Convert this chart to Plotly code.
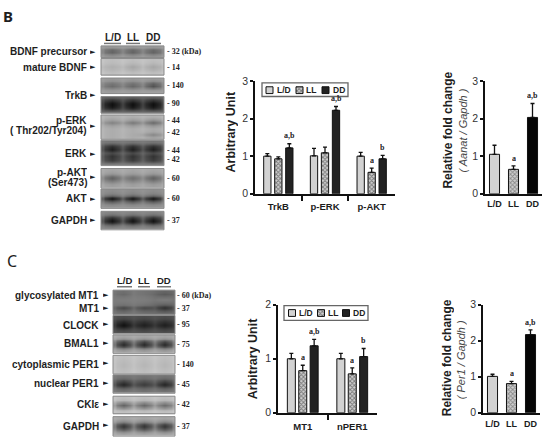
import plotly.graph_objects as go

# ---------- data ----------
conditions = ["L/D", "LL", "DD"]

b_groups = ["TrkB", "p-ERK", "p-AKT"]
b_ld = [1.00, 1.01, 1.00]
b_ll = [0.93, 1.09, 0.57]
b_dd = [1.22, 2.22, 0.93]
b_ld_err = [0.07, 0.20, 0.10]
b_ll_err = [0.05, 0.15, 0.11]
b_dd_err = [0.11, 0.10, 0.09]
b_ld_sig = ["", "", ""]
b_ll_sig = ["", "", "a"]
b_dd_sig = ["a,b", "a,b", "b"]

aanat = [1.05, 0.65, 2.03]
aanat_err = [0.24, 0.09, 0.37]
aanat_sig = ["", "a", "a,b"]

c_groups = ["MT1", "nPER1"]
c_ld = [1.00, 1.00]
c_ll = [0.78, 0.72]
c_dd = [1.24, 1.04]
c_ld_err = [0.10, 0.10]
c_ll_err = [0.10, 0.11]
c_dd_err = [0.12, 0.15]
c_ld_sig = ["", ""]
c_ll_sig = ["a", "a"]
c_dd_sig = ["a,b", "b"]

per1 = [1.01, 0.81, 2.17]
per1_err = [0.06, 0.06, 0.13]
per1_sig = ["", "a", "a,b"]

b_labels = ["BDNF precursor", "mature BDNF", "TrkB", "p-ERK", "( Thr202/Tyr204)", "ERK", "p-AKT", "(Ser473)", "AKT", "GAPDH"]
b_label_y = [47, 63, 92, 118, 128, 152, 171, 181, 198, 220]
b_arrow_y = [47, 63, 91, 123, 152, 176, 198, 220]
b_kda = ["- 32 (kDa)", "- 14", "- 140", "- 90", "- 44", "- 42", "- 44", "- 42", "- 60", "- 60", "- 37"]
b_kda_y = [47, 63, 82, 100, 118, 130, 148, 158, 177, 198, 220]

c_labels = ["glycosylated MT1", "MT1", "CLOCK", "BMAL1", "cytoplasmic PER1", "nuclear PER1", "CKIε", "GAPDH"]
c_label_y = [298, 311, 328, 347, 368, 388, 410, 432]
c_kda = ["- 60 (kDa)", "- 37", "- 95", "- 75", "- 140", "- 45", "- 42", "- 37"]
c_kda_y = [298, 311, 327, 348, 368, 389, 410, 432]

# blots: (top, bottom, grey levels down the strip, per-lane band strength)
b_blots = [
    (41, 53, [150, 125, 105, 100, 115, 135, 150], [1.0, 1.0, 1.0]),
    (54, 71, [190, 186, 176, 166, 174, 186, 192], [0.6, 1.0, 1.0]),
    (74, 90, [150, 140, 108, 98, 125, 150, 160], [0.8, 0.9, 1.3]),
    (93, 110, [95, 50, 22, 14, 22, 60, 105], [1.0, 1.0, 1.0]),
    (112, 137, [[175, 160, 130, 160, 172, 172, 172, 172], [175, 158, 120, 155, 172, 172, 170, 172], [175, 150, 105, 150, 170, 165, 135, 165]], [1.0, 1.0, 1.0]),
    (138, 164, [115, 50, 30, 75, 50, 60, 125], [1.0, 1.0, 1.0]),
    (167, 187, [165, 155, 120, 95, 125, 155, 160], [1.0, 0.8, 1.0]),
    (188, 208, [140, 130, 90, 20, 90, 135, 150], [1.0, 1.0, 1.0]),
    (211, 230, [130, 100, 45, 15, 60, 115, 140], [1.0, 1.0, 1.0]),
]
c_blots = [
    (292, 317, [[110, 105, 118, 125, 120, 110, 70, 100, 115], [115, 115, 122, 125, 120, 110, 72, 100, 115], [100, 90, 110, 125, 110, 85, 45, 85, 110]], [1.0, 1.0, 1.0]),
    (318, 337, [75, 60, 35, 15, 40, 65, 85], [1.0, 0.75, 0.75]),
    (338, 357, [165, 140, 70, 40, 80, 145, 165], [1.0, 1.0, 1.0]),
    (359, 378, [190, 188, 185, 182, 185, 188, 190], [1.0, 1.0, 1.0]),
    (379, 398, [115, 100, 65, 35, 70, 105, 120], [1.0, 0.7, 1.0]),
    (401, 419, [190, 180, 130, 95, 135, 185, 195], [1.0, 0.95, 0.9]),
    (422, 442, [165, 140, 80, 50, 85, 145, 170], [1.0, 1.0, 1.0]),
]
lane_edges = [0.0, 0.06, 0.28, 0.39, 0.61, 0.72, 0.94, 1.0]

# ---------- styles ----------
SANS = "Liberation Sans"
SERIF = "Liberation Serif"
INK = "#1c1c1c"
LIGHT = "#d2d2d2"
DARK = "#222222"
HATCH = dict(shape="x", size=3, solidity=0.5, fgcolor="#222222", bgcolor="#cfcfcf")
NOHATCH = dict(shape="")
W, H = 550, 446

fig = go.Figure()
annotations, shapes = [], []


def text(x, y, s, size=10, bold=True, anchor="left", font=SANS, color=INK, angle=0, italic=False, xref="x", yref="y", yanchor="middle"):
    if bold:
        s = f"<b>{s}</b>"
    if italic:
        s = f"<i>{s}</i>"
    annotations.append(dict(x=x, y=y, xref=xref, yref=yref, text=s, showarrow=False, xanchor=anchor, yanchor=yanchor,
                            textangle=angle, font=dict(family=font, size=size, color=color), borderpad=0, borderwidth=0, opacity=0.99))


def blot(x0, x1, top, bottom, rows, lanes):
    nested = isinstance(rows[0], list)
    profiles = rows if nested else [rows] * 3
    n = len(profiles[0])
    ys = [top + (bottom - top) * i / n for i in range(n + 1)]
    xs = [x0 + (x1 - x0) * f for f in lane_edges]
    z = []
    for r in range(n):
        row = []
        for col in range(7):
            if col % 2 == 1:
                lane = col // 2
                bg = profiles[lane][0]
                row.append(bg + (profiles[lane][r] - bg) * lanes[lane])
            else:
                lane = min(col // 2, 2)
                bg = profiles[lane][0]
                row.append(bg + (profiles[lane][r] - bg) * 0.45 + 8)
        z.append(row)
    fig.add_trace(go.Heatmap(x=xs, y=ys, z=z, zmin=0, zmax=255, zsmooth="best", showscale=False, hoverinfo="skip",
                             colorscale=[[0, "#000000"], [1, "#ffffff"]], xaxis="x", yaxis="y"))
    shapes.append(dict(type="rect", xref="x", yref="y", x0=x0, x1=x1, y0=top, y1=bottom,
                       line=dict(color="#8a8a8a", width=1), fillcolor="rgba(0,0,0,0)"))


for top, bottom, rows, lanes in b_blots:
    blot(101, 164, top, bottom, rows, lanes)
for top, bottom, rows, lanes in c_blots:
    blot(113, 175, top, bottom, rows, lanes)

# panel letters
text(3, 10, "B", size=15, font="Noto Sans")
text(7, 262, "C", size=16, bold=False, font="Noto Sans")

# blot headers
for cond, x in zip(conditions, [113, 133, 153]):
    text(x, 32, cond, size=10, anchor="center")
for cond, x in zip(conditions, [124.5, 144, 164]):
    text(x, 282, cond, size=9.5, anchor="center")
for a, b in [(104, 121), (126, 140), (145, 161)]:
    shapes.append(dict(type="line", xref="x", yref="y", x0=a, x1=b, y0=38.5, y1=38.5, line=dict(color="#777777", width=1.5)))
for a, b in [(117, 132), (138, 150), (157, 171)]:
    shapes.append(dict(type="line", xref="x", yref="y", x0=a, x1=b, y0=288.5, y1=288.5, line=dict(color="#777777", width=1.5)))

# blot labels
for s, y in zip(b_labels, b_label_y):
    text(87, y, s, size=10, anchor="right")
for y in b_arrow_y:
    text(93, y, "►", size=7, anchor="center", bold=False, font="DejaVu Sans")
for s, y in zip(b_kda, b_kda_y):
    text(167, y, s, size=8, font=SERIF, color="#222222")
for s, y in zip(c_labels, c_label_y):
    text(99, y, s, size=10, anchor="right")
    text(106, y - 1, "►", size=7, anchor="center", bold=False, font="DejaVu Sans")
for s, y in zip(c_kda, c_kda_y):
    text(177, y, s, size=8, font=SERIF, color="#222222")


def dom_x(a, b):
    return [a / W, b / W]


def dom_y(top, bottom):
    return [1 - bottom / H, 1 - top / H]


AXIS = dict(showline=True, linecolor="#111111", linewidth=1.5, showgrid=False, zeroline=False)
GHOST = "rgba(0,0,0,0)"


def grouped(idx, left, right, top, bottom, ymax, groups, series, errs, sigs, bar_w, step, gap):
    xa, ya = f"x{idx}", f"y{idx}"
    span = right - left
    n = len(groups)
    styles = [(LIGHT, NOHATCH), ("#cfcfcf", HATCH), (DARK, NOHATCH)]
    for k, (vals, err, sig, (col, pat)) in enumerate(zip(series, errs, sigs, styles)):
        xs = [i + 0.5 + (k - 1) * step / (span / n) for i in range(n)]
        fig.add_trace(go.Bar(x=xs, y=vals, width=bar_w / (span / n), xaxis=xa, yaxis=ya,
                             marker=dict(color=col, pattern=pat, line=dict(color="#111111", width=1)),
                             error_y=dict(type="data", array=err, arrayminus=[0] * n, symmetric=False,
                                          color="#111111", thickness=1.3, width=2)))
        for x, v, e, s in zip(xs, vals, err, sig):
            if s:
                text(x, v + e + 0.03 * ymax, s, size=8, font=SERIF, anchor="center", xref=xa, yref=ya, yanchor="bottom", color="#222222")
    fig.layout[f"xaxis{idx}"] = dict(AXIS, domain=dom_x(left, right), range=[0, n], anchor=ya,
                                     tickvals=[i + 0.5 for i in range(n)], ticktext=[f"<b>{g}</b>" for g in groups],
                                     ticks="outside", ticklen=gap, tickcolor=GHOST, tickfont=dict(family=SANS, size=9.5, color=INK),
                                     minor=dict(tickvals=list(range(1, n)), ticks="outside", ticklen=5, tickwidth=1.5, tickcolor="#111111"))
    fig.layout[f"yaxis{idx}"] = dict(AXIS, domain=dom_y(top, bottom), range=[0, ymax], anchor=xa,
                                     tickvals=list(range(ymax + 1)), ticks="outside", ticklen=3, tickwidth=1.5, tickcolor="#111111",
                                     tickfont=dict(family=SANS, size=10.5, color="#333333"))


def single(idx, left, right, top, bottom, vals, err, sig, bar_frac, gap):
    xa, ya = f"x{idx}", f"y{idx}"
    fig.add_trace(go.Bar(x=conditions, y=vals, xaxis=xa, yaxis=ya, width=bar_frac,
                         marker=dict(color=[LIGHT, "#cfcfcf", "#050505"], pattern=dict(shape=["", "x", ""], size=3, solidity=0.5, fgcolor="#222222", bgcolor="#cfcfcf"),
                                     line=dict(color="#111111", width=1)),
                         error_y=dict(type="data", array=err, arrayminus=[0, 0, 0], symmetric=False, color="#111111", thickness=1.3, width=2)))
    for c, v, e, s in zip(conditions, vals, err, sig):
        if s:
            text(c, v + e + 0.09, s, size=8, font=SERIF, anchor="center", xref=xa, yref=ya, yanchor="bottom", color="#222222")
    fig.layout[f"xaxis{idx}"] = dict(AXIS, domain=dom_x(left, right), range=[-0.5, 2.5], anchor=ya, type="category",
                                     ticks="outside", ticklen=gap, tickcolor=GHOST, ticktext=[f"<b>{c}</b>" for c in conditions], tickvals=conditions,
                                     tickfont=dict(family=SANS, size=9, color=INK))
    fig.layout[f"yaxis{idx}"] = dict(AXIS, domain=dom_y(top, bottom), range=[0, 3], anchor=xa,
                                     tickvals=[0, 1, 2, 3], ticks="outside", ticklen=3, tickwidth=1.5, tickcolor="#111111",
                                     tickfont=dict(family=SANS, size=10.5, color="#333333"))


grouped(2, 255, 395, 77, 193, 3, b_groups, [b_ld, b_ll, b_dd], [b_ld_err, b_ll_err, b_dd_err], [b_ld_sig, b_ll_sig, b_dd_sig], 7.3, 11, 3)
single(3, 485, 542, 77, 193, aanat, aanat_err, aanat_sig, 0.53, 1)
grouped(4, 278, 377, 307, 418, 2, c_groups, [c_ld, c_ll, c_dd], [c_ld_err, c_ll_err, c_dd_err], [c_ld_sig, c_ll_sig, c_dd_sig], 8, 11.4, 4)
single(5, 483, 540, 307, 418, per1, per1_err, per1_sig, 0.53, 2)

# axis titles
text(230, 130, "Arbitrary Unit", size=12.5, anchor="center", angle=-90)
text(448, 128, "Relative fold change", size=12, anchor="center", angle=-90)
text(463, 128, "( Aanat / Gapdh )", size=11, anchor="center", angle=-90, bold=False, italic=True, color="#444444")
text(253, 363, "Arbitrary Unit", size=12.5, anchor="center", angle=-90)
text(447, 362, "Relative fold change", size=12, anchor="center", angle=-90)
text(461, 364, "( Per1 / Gapdh )", size=11, anchor="center", angle=-90, bold=False, italic=True, color="#444444")


# hand-placed compact legends
def legend(box, ytop, ybot, swatches, labels_x):
    shapes.append(dict(type="rect", xref="x", yref="y", x0=box[0], x1=box[1], y0=box[2], y1=box[3],
                       line=dict(color="#666666", width=1.3), fillcolor="rgba(0,0,0,0)"))
    styles = [(LIGHT, NOHATCH), ("#cfcfcf", HATCH), (DARK, NOHATCH)]
    for sw, lx, cond, (col, pat) in zip(swatches, labels_x, conditions, styles):
        fig.add_trace(go.Bar(x=[sw], y=[ybot - ytop], base=[ytop], width=7, xaxis="x", yaxis="y", hoverinfo="skip",
                             marker=dict(color=col, pattern=pat, line=dict(color="#111111", width=1))))
        text(lx, (ytop + ybot) / 2, cond, size=8.5)


legend((262, 348, 79, 93), 83, 90, [269.5, 299.5, 325.5], [277, 306, 333])
legend((284, 368, 308, 323), 312, 319, [292, 321, 346], [299, 328, 353])

fig.update_layout(
    width=W, height=H, margin=dict(l=0, r=0, t=0, b=0), paper_bgcolor="white", plot_bgcolor="rgba(0,0,0,0)",
    showlegend=False, barmode="overlay",
    xaxis=dict(domain=[0, 1], range=[0, W], visible=False, fixedrange=True),
    yaxis=dict(domain=[0, 1], range=[H, 0], visible=False, fixedrange=True),
    annotations=annotations, shapes=shapes,
)
fig.write_html("out.html", config=dict(displayModeBar=False), post_script="document.body.style.margin='0';")
